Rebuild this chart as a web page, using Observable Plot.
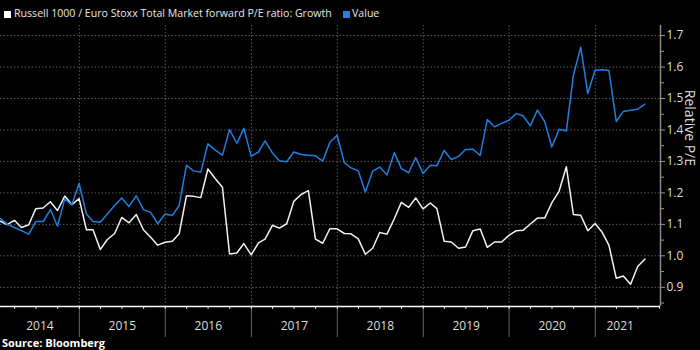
<!DOCTYPE html>
<html>
<head>
<meta charset="utf-8">
<script src="https://cdn.jsdelivr.net/npm/d3@7"></script>
<script src="https://cdn.jsdelivr.net/npm/@observablehq/plot@0.6"></script>
<style>
  html, body { margin: 0; padding: 0; background: #000; }
  body { width: 700px; height: 350px; overflow: hidden; position: relative; font-family: "Open Sans", Roboto, sans-serif; color: #ddd; }
  #legend { position: relative; height: 24px; }
  .sw { position: absolute; top: 11px; width: 7px; height: 7px; }
  .lt { position: absolute; top: 6px; font-size: 11px; line-height: 14px; color: #e8e8e8; white-space: nowrap; }
  #source { position: absolute; left: 2px; top: 336px; font-size: 11px; font-weight: bold; color: #fff; line-height: 14px; }
</style>
</head>
<body>
<div id="legend">
  <div class="sw" style="left:4px;background:#fff"></div>
  <div class="lt" id="lt1" style="left:14px">Russell 1000 / Euro Stoxx Total Market forward P/E ratio: Growth</div>
  <div class="sw" style="left:343px;background:#1f82e6"></div>
  <div class="lt" id="lt2" style="left:352px">Value</div>
</div>
<div id="chart"></div>
<div id="source">Source: Bloomberg</div>
<script>
// ---- data (month-end observations, Jan 2014 .. Jul 2021) ----
const firstYear = 2014, firstMonthIndex = 0, nMonths = 91;
const growth = [
  1.110,1.099,1.113,1.090,1.099,1.150,1.152,1.172,1.144,1.190,1.163,1.182,
  1.083,1.083,1.020,1.052,1.071,1.122,1.105,1.131,1.083,1.059,1.034,1.043,
  1.046,1.070,1.191,1.189,1.185,1.276,1.246,1.218,1.006,1.009,1.039,1.003,
  1.041,1.053,1.097,1.088,1.102,1.173,1.195,1.207,1.053,1.040,1.086,1.086,
  1.071,1.070,1.054,1.005,1.024,1.074,1.069,1.118,1.170,1.154,1.184,1.149,
  1.168,1.150,1.046,1.044,1.024,1.028,1.080,1.085,1.027,1.044,1.044,1.065,
  1.080,1.081,1.101,1.120,1.120,1.168,1.205,1.283,1.131,1.129,1.080,1.103,
  1.074,1.033,0.929,0.936,0.910,0.966,0.990
];
const value = [
  1.118,1.101,1.090,1.080,1.069,1.109,1.109,1.147,1.094,1.181,1.162,1.230,
  1.133,1.109,1.107,1.133,1.160,1.184,1.157,1.191,1.147,1.138,1.102,1.133,
  1.128,1.160,1.288,1.270,1.266,1.356,1.336,1.320,1.401,1.357,1.405,1.316,
  1.330,1.365,1.327,1.302,1.299,1.330,1.322,1.320,1.318,1.301,1.360,1.383,
  1.296,1.280,1.270,1.203,1.269,1.282,1.257,1.328,1.277,1.264,1.312,1.262,
  1.288,1.286,1.335,1.306,1.316,1.338,1.339,1.319,1.433,1.410,1.421,1.431,
  1.452,1.445,1.413,1.463,1.427,1.346,1.402,1.397,1.574,1.663,1.516,1.590,
  1.591,1.589,1.427,1.459,1.463,1.466,1.482
];
const years = [2014, 2015, 2016, 2017, 2018, 2019, 2020, 2021];
const yTicks = [0.9, 1.0, 1.1, 1.2, 1.3, 1.4, 1.5, 1.6, 1.7];
const yMinorTicks = [0.85, 0.95, 1.05, 1.15, 1.25, 1.35, 1.45, 1.55, 1.65];
const yAxisLabel = "Relative P/E";

// fit legend text to the reference's width
(function fitLegend() {
  const el = document.getElementById("lt1");
  const w = el.getBoundingClientRect().width;
  const target = 318;
  const fs = 11 * target / w;
  el.style.fontSize = fs.toFixed(2) + "px";
  document.getElementById("lt2").style.fontSize = fs.toFixed(2) + "px";
})();

// ---- build table ----
const dates = d3.range(nMonths).map(k => new Date(Date.UTC(firstYear, firstMonthIndex + k + 1, 0)));
const rows = dates.map((d, i) => ({date: d, growth: growth[i], value: value[i]}));

const xDomain = [dates[0], new Date(Date.UTC(2021, 9, 5))];
const yDomain = [0.839, 1.732];

const yearStarts = years.slice(1).map(y => new Date(Date.UTC(y, 0, 1)));
const quarterTicks = d3.utcMonth.every(3).range(new Date(Date.UTC(2014, 0, 1)), xDomain[1]).filter(d => d >= xDomain[0]);
const lastDate = dates[dates.length - 1];
const yearLabels = years.map(y => {
  const a = Math.max(+new Date(Date.UTC(y, 0, 1)), +dates[0]);
  const b = Math.min(+new Date(Date.UTC(y + 1, 0, 1)), +lastDate);
  return {mid: new Date((a + b) / 2), label: String(y)};
});

const chart = Plot.plot({
  width: 700,
  height: 310,
  marginLeft: 0,
  marginRight: 40,
  marginTop: 1,
  marginBottom: 28,
  style: {background: "#000", color: "#ddd", fontFamily: "Open Sans, Roboto, sans-serif", overflow: "visible"},
  x: {type: "utc", domain: xDomain, axis: null},
  y: {domain: yDomain, axis: null},
  marks: [
    Plot.ruleY(yTicks, {stroke: "#5a5a5a", strokeDasharray: "1.5,2", strokeWidth: 1}),
    Plot.ruleX(yearStarts, {stroke: "#5a5a5a", strokeDasharray: "1.5,2", strokeWidth: 1}),
    Plot.axisX({ticks: yearStarts, tickSize: 31, tickFormat: () => "", stroke: "#666"}),
    Plot.axisX({ticks: quarterTicks, tickSize: 3, tickFormat: () => "", stroke: "#ddd"}),
    Plot.text(yearLabels, {x: "mid", text: "label", frameAnchor: "bottom", dy: 23, fill: "#ddd", fontSize: 12}),
    Plot.ruleY([yDomain[0]], {stroke: "#fff", strokeWidth: 1.5}),
    Plot.ruleX([xDomain[1]], {stroke: "#888", strokeWidth: 1.5}),
    Plot.axisY({anchor: "right", ticks: yMinorTicks, tickSize: 3, tickFormat: () => "", stroke: "#999"}),
    Plot.axisY({anchor: "right", ticks: yTicks, tickSize: 4, tickPadding: 2, tickFormat: d3.format(".1f"), stroke: "#999", fill: "#ddd", fontSize: 12}),
    Plot.text([yAxisLabel], {frameAnchor: "right", dx: 29, rotate: 90, fill: "#ddd", fontSize: 14}),
    Plot.line(rows, {x: "date", y: "growth", stroke: "#f2f2f2", strokeWidth: 1.5}),
    Plot.line(rows, {x: "date", y: "value", stroke: "#1f7fdf", strokeWidth: 1.5})
  ]
});
document.getElementById("chart").appendChild(chart);
</script>
</body>
</html>
